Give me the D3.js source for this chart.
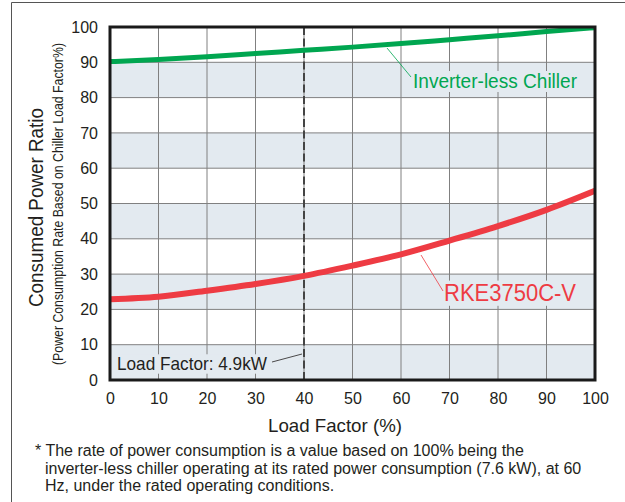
<!DOCTYPE html>
<html>
<head>
<meta charset="utf-8">
<script src="https://cdn.jsdelivr.net/npm/d3@7"></script>
<style>
  body { margin: 0; background: #fff; }
  svg { display: block; font-family: "Liberation Sans", Arial, sans-serif; }
</style>
</head>
<body>
<svg></svg>
<script>
// load factor (%) on the x axis
let loadFactor = [0, 10, 20, 30, 40, 50, 60, 70, 80, 90, 100];
// consumed power ratio
let inverterless = [90.2, 90.8, 91.6, 92.5, 93.4, 94.3, 95.3, 96.4, 97.5, 98.7, 99.8];
let rke3750 = [22.9, 23.6, 25.3, 27.2, 29.5, 32.4, 35.6, 39.5, 43.6, 48.2, 53.6];
let xTicks = [0, 10, 20, 30, 40, 50, 60, 70, 80, 90, 100];
let yTicks = [0, 10, 20, 30, 40, 50, 60, 70, 80, 90, 100];
let bands = [0, 20, 40, 60, 80];
let markerLoad = 40;
let footnote = [
  "* The rate of power consumption is a value based on 100% being the",
  "inverter-less chiller operating at its rated power consumption (7.6 kW), at 60",
  "Hz, under the rated operating conditions."
];

let width = 625;
let height = 502;
let plot = {left: 110, right: 595, top: 27, bottom: 380};
let bandFill = "#e3eaf0";

let svg = d3.select("svg")
            .attr("width", width)
            .attr("height", height);

let x = d3.scaleLinear().domain([0, 100]).range([plot.left, plot.right]);
let y = d3.scaleLinear().domain([0, 100]).range([plot.bottom, plot.top]);

// outer frame
svg.append("path")
   .attr("d", `M11.5,${height} V2.5 H${width}`)
   .attr("fill", "none")
   .attr("stroke", "#555")
   .attr("stroke-width", 1);

// shaded bands
svg.selectAll(".band")
   .data(bands)
   .enter().append("rect")
     .attr("x", plot.left)
     .attr("width", plot.right - plot.left)
     .attr("y", d => y(d + 10))
     .attr("height", d => y(d) - y(d + 10))
     .attr("fill", bandFill);

// grid
svg.append("g")
   .selectAll("line")
   .data(xTicks.slice(1, -1))
   .enter().append("line")
     .attr("x1", d => x(d)).attr("x2", d => x(d))
     .attr("y1", plot.top).attr("y2", plot.bottom)
     .attr("stroke", "#808080").attr("stroke-width", 1);

svg.append("g")
   .selectAll("line")
   .data(yTicks.slice(1, -1))
   .enter().append("line")
     .attr("x1", plot.left).attr("x2", plot.right)
     .attr("y1", d => y(d)).attr("y2", d => y(d))
     .attr("stroke", "#808080").attr("stroke-width", 1);

// labels inside the plot sit on a band-coloured patch that hides the grid
function label(text, tx, ty, len, size, color) {
  let g = svg.append("g");
  let bg = g.append("rect").attr("fill", bandFill);
  g.append("text")
     .attr("x", tx).attr("y", ty)
     .attr("textLength", len).attr("lengthAdjust", "spacingAndGlyphs")
     .style("font-size", size + "px")
     .attr("fill", color)
     .text(text);
  bg.attr("x", tx - 2).attr("width", len + 4)
    .attr("y", ty - size * 0.85).attr("height", size * 1.05);
  return g;
}

// dashed marker at 4.9kW load
svg.append("line")
   .attr("x1", x(markerLoad)).attr("x2", x(markerLoad))
   .attr("y1", plot.top).attr("y2", plot.bottom)
   .attr("stroke", "#444")
   .attr("stroke-width", 2)
   .attr("stroke-dasharray", "8,3.5");

label("Inverter-less Chiller", 413, 88, 164, 20, "#00a650");
label("RKE3750C-V", 444, 301, 132, 24, "#ee3b43");
label("Load Factor: 4.9kW", 117, 370, 150, 18.5, "#231f20");

// curves
svg.append("clipPath").attr("id", "clip")
   .append("rect")
     .attr("x", plot.left).attr("y", plot.top)
     .attr("width", plot.right - plot.left)
     .attr("height", plot.bottom - plot.top);

let line = d3.line()
             .x((d, i) => x(loadFactor[i]))
             .y(d => y(d))
             .curve(d3.curveMonotoneX);

svg.append("path")
   .datum(inverterless)
   .attr("d", line)
   .attr("clip-path", "url(#clip)")
   .attr("fill", "none")
   .attr("stroke", "#00a650")
   .attr("stroke-width", 5);

svg.append("path")
   .datum(rke3750)
   .attr("d", line)
   .attr("clip-path", "url(#clip)")
   .attr("fill", "none")
   .attr("stroke", "#ee3b43")
   .attr("stroke-width", 6);

// leader lines
svg.append("line")
   .attr("x1", 387).attr("y1", 48).attr("x2", 411).attr("y2", 77)
   .attr("stroke", "#00a650").attr("stroke-width", 0.8);
svg.append("line")
   .attr("x1", 421).attr("y1", 255).attr("x2", 443).attr("y2", 291)
   .attr("stroke", "#ee3b43").attr("stroke-width", 0.8);
svg.append("line")
   .attr("x1", 272).attr("y1", 362).attr("x2", 302).attr("y2", 354)
   .attr("stroke", "#231f20").attr("stroke-width", 0.8);

// plot border
svg.append("rect")
   .attr("x", plot.left).attr("y", plot.top)
   .attr("width", plot.right - plot.left)
   .attr("height", plot.bottom - plot.top)
   .attr("fill", "none")
   .attr("stroke", "#1a1a1a")
   .attr("stroke-width", 3);

// axes (labels only)
let xAxis = svg.append("g")
   .attr("transform", `translate(0,${plot.bottom})`)
   .call(d3.axisBottom(x).tickValues(xTicks).tickSize(0).tickPadding(13));
let yAxis = svg.append("g")
   .attr("transform", `translate(${plot.left},0)`)
   .call(d3.axisLeft(y).tickValues(yTicks).tickSize(0).tickPadding(12));
[xAxis, yAxis].forEach(a => {
  a.select(".domain").remove();
  a.selectAll("text")
   .attr("fill", "#231f20")
   .style("font-size", "16px")
   .style("font-family", "Liberation Sans, Arial, sans-serif");
});

// axis titles
svg.append("text")
   .attr("x", 268).attr("y", 432)
   .attr("textLength", 134).attr("lengthAdjust", "spacingAndGlyphs")
   .style("font-size", "18.5px")
   .attr("fill", "#231f20")
   .text("Load Factor (%)");

svg.append("text")
   .attr("transform", "rotate(-90)")
   .attr("x", -307).attr("y", 43)
   .attr("textLength", 199).attr("lengthAdjust", "spacingAndGlyphs")
   .style("font-size", "19.5px")
   .attr("fill", "#231f20")
   .text("Consumed Power Ratio");

// narrow subtitle: small font stretched in glyph height
svg.append("text")
   .attr("transform", "rotate(-90) scale(1,1.16)")
   .attr("x", -365).attr("y", 63 / 1.16)
   .attr("textLength", 322).attr("lengthAdjust", "spacingAndGlyphs")
   .style("font-size", "12.5px")
   .attr("fill", "#231f20")
   .text("(Power Consumption Rate Based on Chiller Load Factor%)");

// footnote
svg.append("g")
   .selectAll("text")
   .data(footnote)
   .enter().append("text")
     .attr("x", (d, i) => i === 0 ? 35 : 45)
     .attr("y", (d, i) => 456 + i * 17.5)
     .style("font-size", "16px")
     .attr("fill", "#231f20")
     .text(d => d);
</script>
</body>
</html>
